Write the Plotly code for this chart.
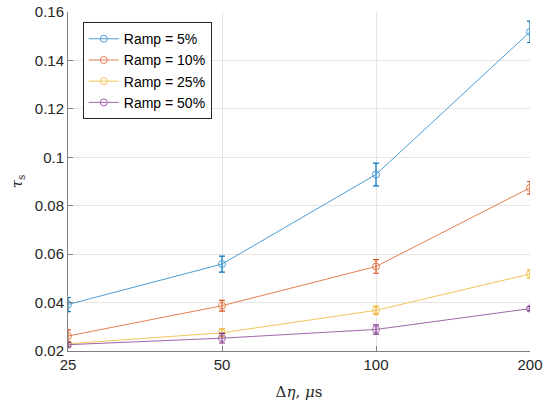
import plotly.graph_objects as go

delta_eta = [25, 50, 100, 200]
series_names = ["Ramp = 5%", "Ramp = 10%", "Ramp = 25%", "Ramp = 50%"]
tau_5 = [0.0392, 0.0559, 0.0929, 0.1518]
tau_10 = [0.0262, 0.0387, 0.0549, 0.0874]
tau_25 = [0.0230, 0.0275, 0.0368, 0.0518]
tau_50 = [0.0226, 0.0253, 0.0289, 0.0375]
err_5 = [0.0029, 0.0033, 0.0047, 0.0044]
err_10 = [0.0025, 0.0022, 0.0028, 0.0026]
err_25 = [0.0010, 0.0016, 0.0017, 0.0017]
err_50 = [0.0010, 0.0020, 0.0019, 0.0008]
colors = ["#0072BD", "#D95319", "#EDB120", "#7E2F8E"]
line_colors = ["#4a9fd6", "#e57f52", "#f2c65a", "#a066aa"]
y_ticks = [0.02, 0.04, 0.06, 0.08, 0.1, 0.12, 0.14, 0.16]
y_tick_text = ["0.02", "0.04", "0.06", "0.08", "0.1", "0.12", "0.14", "0.16"]

fig = go.Figure()
for name, ys, es, c, lc in zip(series_names, [tau_5, tau_10, tau_25, tau_50],
                               [err_5, err_10, err_25, err_50], colors, line_colors):
    fig.add_trace(go.Scatter(
        x=delta_eta, y=ys, name=name, mode="lines+markers",
        line=dict(color=lc, width=1),
        marker=dict(symbol="circle-open", size=7, color=lc, line=dict(width=1)),
        error_y=dict(type="data", array=es, visible=True, color=c,
                     thickness=1.2, width=3),
    ))

fig.update_layout(
    width=545, height=402,
    margin=dict(l=68, r=15, t=12, b=51),
    paper_bgcolor="white", plot_bgcolor="white",
    font=dict(family="Liberation Sans, Arial, sans-serif", size=14, color="#262626"),
    showlegend=True,
    legend=dict(x=0.032, y=0.97, xanchor="left", yanchor="top",
                bgcolor="white", bordercolor="#262626", borderwidth=1,
                font=dict(size=14, color="#000000"),
                tracegroupgap=0, itemwidth=30),
)
fig.update_xaxes(
    type="log", range=[1.39794, 2.30103], automargin=False,
    tickvals=delta_eta, ticktext=[str(v) for v in delta_eta],
    showgrid=True, gridcolor="#e5e5e5", gridwidth=1,
    showline=True, linecolor="#808080", linewidth=1,
    ticks="inside", ticklen=5, tickcolor="#808080",
    tickfont=dict(size=15, color="#262626"),
    title=dict(text="Δ<i>η</i>, <i>μ</i>s",
               font=dict(family="DejaVu Serif, Liberation Serif, serif", size=15, color="#262626"),
               standoff=14),
    zeroline=False, mirror=False,
)
fig.update_yaxes(
    range=[0.02, 0.16], automargin=False,
    tickvals=y_ticks, ticktext=y_tick_text,
    showgrid=True, gridcolor="#e5e5e5", gridwidth=1,
    showline=True, linecolor="#808080", linewidth=1,
    ticks="inside", ticklen=5, tickcolor="#808080",
    tickfont=dict(size=15, color="#262626"),
    title=dict(text="<i>τ</i><sub>s</sub>",
               font=dict(family="DejaVu Serif, Liberation Serif, serif", size=15, color="#262626"),
               standoff=8),
    zeroline=False, mirror=False,
)

fig.write_html("out.html")
